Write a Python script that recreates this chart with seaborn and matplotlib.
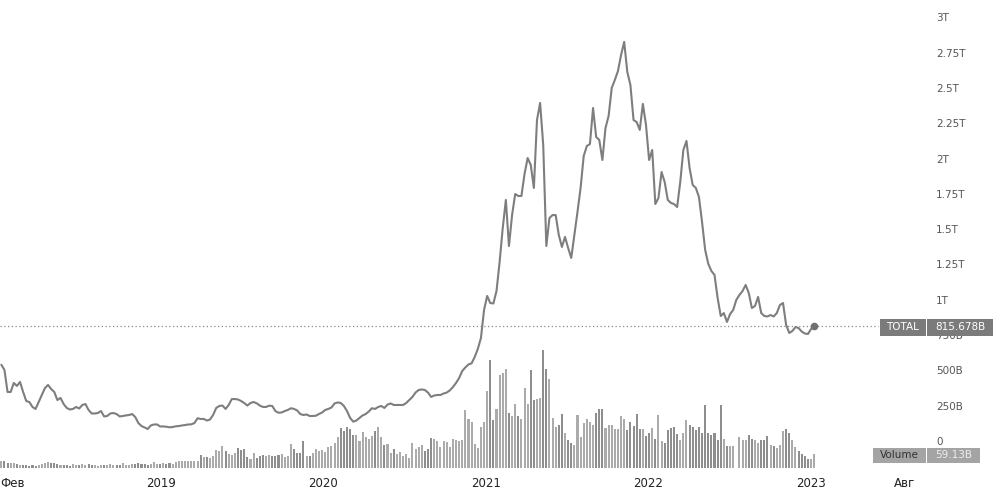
import numpy as np
import pandas as pd
import matplotlib.pyplot as plt
import matplotlib.patches as mpatches
import seaborn as sns

# --------------------------
# style
# --------------------------
sns.set_theme(style="white")
plt.rcParams['font.family'] = ['DejaVu Sans']

W, H = 1004, 501

# --------------------------
# data (weekly, billions USD)
# --------------------------
week_start = "2018-01-08"

total_cap = [
    540, 503, 347, 347, 411, 390, 418, 347, 283, 276,
    241, 227, 276, 326, 375, 397, 368, 347, 290, 305,
    262, 234, 223, 227, 241, 230, 255, 262, 220, 195,
    195, 198, 212, 174, 177, 195, 198, 191, 174, 177,
    181, 184, 191, 170, 127, 106, 96, 85, 110, 117,
    117, 103, 103, 101, 97, 99, 104, 106, 110, 113,
    117, 118, 127, 161, 156, 156, 145, 152, 184, 234,
    248, 251, 227, 255, 297, 297, 294, 283, 269, 251,
    269, 276, 267, 251, 241, 241, 250, 248, 212, 200,
    202, 212, 220, 232, 227, 216, 191, 184, 188, 177,
    177, 179, 191, 202, 220, 227, 237, 266, 273, 269,
    248, 212, 163, 137, 145, 163, 181, 191, 209, 232,
    227, 241, 248, 234, 258, 266, 255, 255, 255, 255,
    269, 290, 312, 343, 361, 365, 361, 343, 312, 322,
    326, 326, 336, 343, 358, 382, 411, 446, 496, 521,
    542, 550, 595, 652, 729, 928, 1027, 977, 974, 1062,
    1268, 1508, 1707, 1381, 1600, 1749, 1735, 1735, 1891, 2004,
    1955, 1792, 2273, 2394, 2096, 1381, 1579, 1600, 1600, 1459,
    1374, 1445, 1367, 1296, 1459, 1622, 1792, 2018, 2089, 2103,
    2358, 2153, 2132, 1990, 2217, 2302, 2500, 2557, 2620, 2734,
    2826, 2613, 2521, 2273, 2259, 2203, 2387, 2238, 1990, 2061,
    1678, 1721, 1905, 1834, 1707, 1686, 1678, 1657, 1834, 2061,
    2125, 1933, 1813, 1792, 1728, 1551, 1353, 1254, 1204, 1176,
    1013, 885, 906, 843, 899, 928, 999, 1034, 1062, 1105,
    1048, 942, 956, 1020, 906, 885, 882, 892, 882, 906,
    963, 977, 822, 765, 779, 807, 800, 775, 761, 758,
    793, 815.678,
]

volume = [
    30, 28, 21, 21, 22, 18, 13, 11, 11, 10,
    11, 8, 14, 16, 20, 25, 22, 21, 17, 14,
    14, 13, 10, 17, 14, 13, 17, 14, 18, 11,
    13, 8, 14, 14, 14, 16, 14, 14, 14, 21,
    11, 11, 16, 17, 21, 17, 16, 14, 16, 27,
    16, 16, 21, 17, 21, 18, 24, 30, 31, 28,
    30, 30, 30, 31, 54, 46, 45, 42, 52, 77,
    72, 92, 73, 60, 54, 65, 86, 75, 79, 46,
    38, 63, 42, 51, 55, 51, 55, 51, 51, 55,
    59, 46, 51, 101, 80, 63, 63, 114, 51, 51,
    63, 80, 72, 76, 68, 89, 93, 106, 131, 169,
    156, 173, 165, 139, 139, 114, 152, 131, 122, 135,
    156, 173, 131, 97, 101, 63, 80, 59, 68, 51,
    59, 42, 106, 80, 89, 97, 72, 80, 127, 122,
    114, 89, 114, 110, 89, 122, 118, 114, 118, 245,
    207, 194, 101, 84, 173, 194, 325, 456, 203, 249,
    392, 401, 418, 232, 219, 270, 219, 207, 338, 270,
    414, 287, 291, 295, 498, 418, 376, 211, 173, 181,
    228, 148, 118, 106, 97, 224, 131, 190, 207, 194,
    181, 232, 249, 249, 169, 181, 181, 165, 165, 219,
    207, 160, 194, 177, 228, 165, 165, 135, 148, 169,
    122, 224, 114, 106, 160, 169, 173, 143, 118, 148,
    203, 181, 173, 160, 173, 148, 266, 148, 139, 148,
    118, 266, 122, 93, 93, 93, 0, 131, 118, 118,
    139, 122, 118, 106, 118, 118, 135, 97, 93, 84,
    97, 156, 165, 148, 118, 89, 72, 59, 51, 38,
    38, 59.13,
]

y_ticks = [0, 250, 500, 750, 1000, 1250, 1500, 1750, 2000, 2250, 2500, 2750, 3000]
y_tick_labels = ["0", "250B", "500B", "750B", "1T", "1.25T", "1.5T", "1.75T",
                 "2T", "2.25T", "2.5T", "2.75T", "3T"]
x_ticks = ["2018-02-01", "2019-01-01", "2020-01-01", "2021-01-01",
           "2022-01-01", "2023-01-01", "2023-08-01"]
x_tick_labels = ["Фев", "2019", "2020", "2021", "2022", "2023", "Авг"]

dates = pd.date_range(week_start, periods=len(total_cap), freq="7D")
df = pd.DataFrame({"date": dates, "total": total_cap, "volume": volume})
df["up"] = df["total"].diff().fillna(0) >= 0

# --------------------------
# figure
# --------------------------
fig = plt.figure(figsize=(W / 100, H / 100), dpi=100)
ax = fig.add_axes([0, 31 / H, 1, 470 / H])
axv = ax.twinx()
ax.set_zorder(axv.get_zorder() + 1)
ax.patch.set_visible(False)

# volume bars
bar_colors = np.where(df["up"], "#ababab", "#8e8e8e")
axv.bar(df["date"], df["volume"], width=4.6, color=bar_colors, linewidth=0)
axv.set_ylim(-8.4, 1975)
axv.set_yticks([])
sns.despine(ax=axv, left=True, bottom=True, right=True, top=True)

# total market cap line
sns.lineplot(data=df, x="date", y="total", ax=ax, color="#7e7e7e", linewidth=1.5)
ax.scatter([df["date"].iloc[-1]], [df["total"].iloc[-1]], s=20, color="#707070", zorder=5)
ax.axhline(df["total"].iloc[-1], xmin=0, xmax=878 / W, color="#8a8a8a",
           linewidth=0.9, linestyle=(0, (1, 2)))

x0 = pd.Timestamp("2018-01-05")
ax.set_xlim(x0, x0 + pd.Timedelta(days=2256.7))
ax.set_ylim(-205.4, 3123)

ax.yaxis.tick_right()
ax.set_yticks(y_ticks, y_tick_labels)
ax.tick_params(axis="y", length=0, pad=-49, labelsize=7.5, labelcolor="#555555")
ax.set_xticks(pd.to_datetime(x_ticks), x_tick_labels)
ax.tick_params(axis="x", length=0, pad=5, labelsize=8.5, labelcolor="#222222")
ax.set_xlabel("")
ax.set_ylabel("")
sns.despine(ax=ax, left=True, bottom=True, right=True, top=True)


def tag(x_left, x_right, y_top, y_bottom, text, face, text_color):
    fig.add_artist(mpatches.Rectangle(
        (x_left / W, 1 - y_bottom / H), (x_right - x_left) / W, (y_bottom - y_top) / H,
        transform=fig.transFigure, facecolor=face, edgecolor="none", zorder=5))
    fig.text((x_left + x_right) / 2 / W, 1 - (y_top + y_bottom) / 2 / H, text,
             ha="center", va="center", color=text_color, fontsize=7.5, zorder=6)


tag(880, 926, 319, 336, "TOTAL", "#7b7b7b", "white")
tag(927, 993, 319, 336, f"{df['total'].iloc[-1]:.3f}B", "#7b7b7b", "white")
tag(873, 926, 448, 463, "Volume", "#a4a4a4", "#333333")
tag(927, 980, 448, 463, f"{df['volume'].iloc[-1]:.2f}B", "#a4a4a4", "#eeeeee")

fig.savefig("out.png", dpi=100)
